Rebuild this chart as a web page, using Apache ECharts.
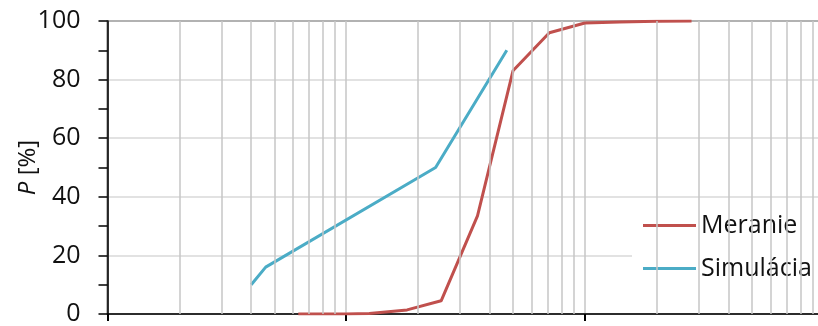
<!DOCTYPE html>
<html>
<head>
<meta charset="utf-8">
<script src="https://cdn.jsdelivr.net/npm/echarts@6/dist/echarts.min.js"></script>
<style>
html,body{margin:0;padding:0;background:#fff;}
#c{width:818px;height:326px;}
</style>
</head>
<body>
<div id="c"></div>
<script>
// Data
const meranieX = [0.063, 0.1, 0.125, 0.18, 0.25, 0.355, 0.5, 0.71, 1.0, 1.4, 2.0, 2.8];
const meranieY = [0, 0, 0.2, 1.4, 4.5, 33.5, 83, 96, 99.3, 99.7, 99.9, 100];
const simX = [0.04, 0.046, 0.237, 0.471];
const simY = [10, 16, 50, 90];
const seriesNames = ['Meranie', 'Simulácia'];
const decades = [0.01, 0.1, 1];
const minorMultipliers = [2, 3, 4, 5, 6, 7, 8, 9];

const minorGrid = [];
decades.forEach(d => minorMultipliers.forEach(m => minorGrid.push({ xAxis: +(d * m).toPrecision(3) })));

const chart = echarts.init(document.getElementById('c'), null, { renderer: 'canvas' });
const font = 'Open Sans';
chart.setOption({
  animation: false,
  textStyle: { fontFamily: font },
  grid: { left: 107.5, top: 21, width: 716, height: 293, containLabel: false, outerBoundsMode: 'none',
    show: true, borderColor: '#000', borderWidth: 1.5, backgroundColor: 'transparent' },
  xAxis: {
    type: 'log', logBase: 10, min: 0.01, max: 10,
    axisLine: { lineStyle: { color: '#000', width: 1.5 } },
    axisTick: { show: true, length: 7, lineStyle: { color: '#000', width: 2 } },
    axisLabel: { show: false },
    splitLine: { show: true, lineStyle: { color: '#c6c6c6', width: 1.5 } },
    minorTick: { show: false }
  },
  yAxis: {
    type: 'value', min: 0, max: 100, interval: 20,
    name: '{i|P} [%]', nameLocation: 'middle', nameGap: 67, nameMoveOverlap: false,
    nameTextStyle: { fontSize: 24, color: '#111', rich: { i: { fontStyle: 'italic', fontSize: 24, color: '#111', fontFamily: font } } },
    axisLine: { show: true, lineStyle: { color: '#000', width: 1.5 } },
    axisTick: { show: true, length: 9, lineStyle: { color: '#000', width: 1.5 } },
    minorTick: { show: true, splitNumber: 2, length: 9, lineStyle: { color: '#000', width: 1.5 } },
    axisLabel: { fontSize: 25, color: '#111', margin: 27 },
    splitLine: { show: true, lineStyle: { color: '#d9d9d9', width: 1.5 } }
  },
  legend: {
    data: seriesNames,
    orient: 'vertical', left: 632, top: 200,
    backgroundColor: '#fff',
    padding: [11, 12, 8, 11],
    itemGap: 14, itemWidth: 53, itemHeight: 3, icon: 'rect',
    selectedMode: false,
    textStyle: { fontSize: 25, color: '#111', lineHeight: 29, fontFamily: font }
  },
  series: [
    {
      name: '_grid', type: 'line', data: [], z: 1, silent: true,
      markLine: { silent: true, symbol: 'none', label: { show: false },
        lineStyle: { color: '#c6c6c6', width: 1.5, type: 'solid' }, data: minorGrid, animation: false }
    },
    {
      name: seriesNames[0], type: 'line', z: 3, showSymbol: false, symbol: 'none',
      color: '#C0504D', lineStyle: { width: 3, color: '#C0504D' },
      data: meranieX.map((x, i) => [x, meranieY[i]])
    },
    {
      name: seriesNames[1], type: 'line', z: 3, showSymbol: false, symbol: 'none',
      color: '#4BACC6', lineStyle: { width: 3, color: '#4BACC6' },
      data: simX.map((x, i) => [x, simY[i]])
    }
  ]
});
</script>
</body>
</html>
